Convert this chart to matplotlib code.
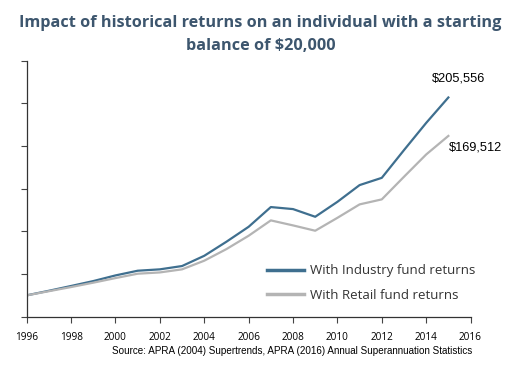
import matplotlib
matplotlib.use("Agg")
from matplotlib import pyplot as plt

years = list(range(1996, 2016))
industry = [20000, 24300, 28800, 33400, 38700, 43100, 44400, 47500, 57100, 70300,
            84300, 102800, 100900, 93700, 107700, 123400, 130200, 156200, 181700, 205556]
retail = [20000, 23900, 27800, 31900, 36200, 40300, 41500, 44400, 52500, 63400,
          75900, 90300, 85600, 80600, 92700, 105300, 110000, 131200, 152100, 169512]
x_ticks = list(range(1996, 2017, 2))
y_ticks = list(range(0, 240001, 40000))

blue = "#3f6f8f"
grey = "#b4b4b4"

fig = plt.figure(figsize=(5.24, 3.75), dpi=100)
ax = fig.add_axes([0.051, 0.1555, 0.847, 0.6825])

ax.plot(years, industry, color=blue, lw=1.6, label="With Industry fund returns")
ax.plot(years, retail, color=grey, lw=1.6, label="With Retail fund returns")

ax.set_xlim(1996, 2016)
ax.set_ylim(0, 240000)
ax.set_xticks(x_ticks)
ax.set_yticks(y_ticks)
ax.set_yticklabels([])
ax.tick_params(direction="out", length=4, width=0.8, color="#444444",
               labelsize=7.2, pad=7)
for lab in ax.get_xticklabels():
    lab.set_fontfamily("Open Sans")
for s in ["top", "right"]:
    ax.spines[s].set_visible(False)
for s in ["left", "bottom"]:
    ax.spines[s].set_color("#333333")
    ax.spines[s].set_linewidth(0.9)

ax.text(2014.24, 223400, "$205,556", ha="left", va="center",
        fontsize=9.2, family="Liberation Sans")
ax.text(2015.04, 158700, "$169,512", ha="left", va="center",
        fontsize=9.2, family="Liberation Sans")

leg = fig.legend(loc="upper left", bbox_to_anchor=(0.509, 0.295), frameon=False,
                 borderpad=0, borderaxespad=0,
                 handlelength=2.8, handletextpad=0.45, labelspacing=0.85,
                 prop={"family": "Open Sans", "size": 9.5})
for h in leg.get_lines():
    h.set_linewidth(2.5)
for t in leg.get_texts():
    t.set_color("#333333")

fig.text(0.497, 0.907, "Impact of historical returns on an individual with a starting\nbalance of $20,000",
         ha="center", va="center", fontsize=11.7, fontweight="bold",
         family="Open Sans", color="#3d566e", linespacing=1.6)

fig.text(0.558, 0.065, "Source: APRA (2004) Supertrends, APRA (2016) Annual Superannuation Statistics",
         ha="center", va="center", fontsize=7.1, family="Liberation Sans")

fig.savefig("out.png", dpi=100)
